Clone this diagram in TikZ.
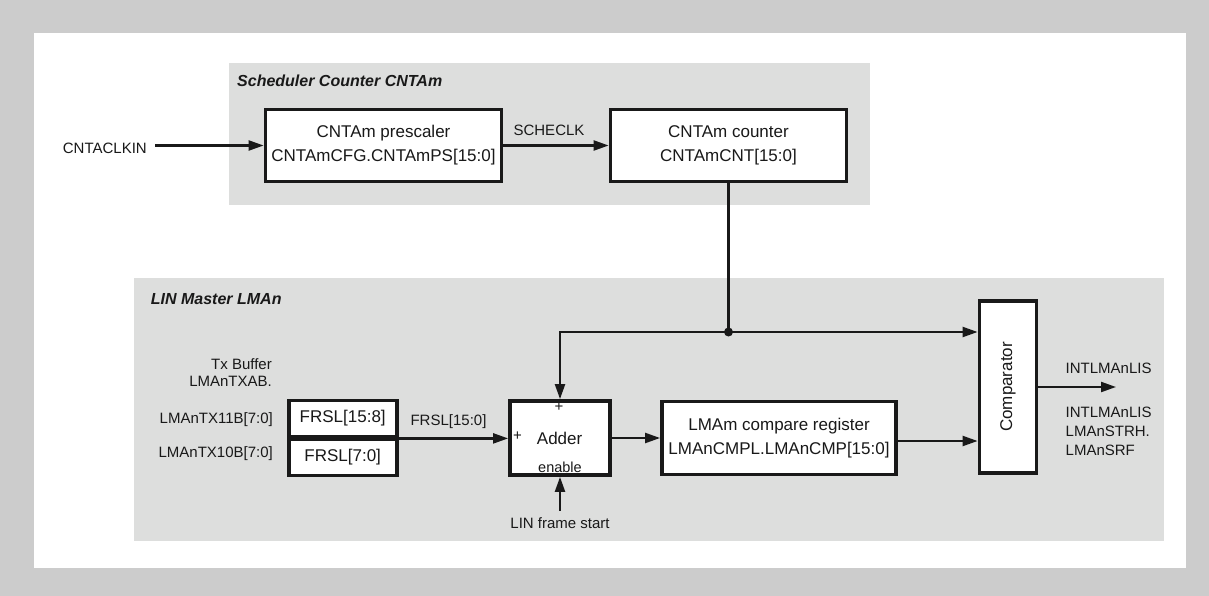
\documentclass[tikz,border=0pt]{standalone}
\usepackage{fontspec}
\setmainfont{Liberation Sans}
\usetikzlibrary{arrows.meta,calc}
\definecolor{outerg}{RGB}{204,204,204}
\definecolor{panelg}{RGB}{221,222,221}
\definecolor{ink}{RGB}{25,25,25}
\begin{document}
\begin{tikzpicture}[x=1pt,y=-1pt,
  blk/.style={draw=ink, line width=3.8pt, fill=white, inner sep=0pt, text=ink,
              font=\fontsize{17}{24}\selectfont, align=center},
  lbl/.style={font=\fontsize{15}{17.5}\selectfont, text=ink, inner sep=0pt},
  ttl/.style={font=\fontsize{16}{16}\selectfont\bfseries\itshape, text=ink, inner sep=0pt, anchor=west},
  arr/.style={draw=ink, line width=2.2pt, -{Triangle[length=15pt,width=10pt]}},
  wire/.style={draw=ink, line width=2.2pt}]
% backgrounds
\fill[outerg] (0,0) rectangle (1209,596);
\fill[white] (34,33) rectangle (1186,568);
\fill[panelg] (229,63.5) rectangle (870,204.5);
\fill[panelg] (134,277.6) rectangle (1164,541.4);
% titles
\node[ttl] (t1) at (237,80.5) {Scheduler Counter CNTAm};
\node[ttl] (t2) at (150.7,299) {LIN Master LMAn};
% blocks
\node[blk, minimum width=236, minimum height=72] (pre) at (383.5,145.5) {CNTAm prescaler\\CNTAmCFG.CNTAmPS[15:0]};
\node[blk, minimum width=236, minimum height=72] (cnt) at (728.5,145.5) {CNTAm counter\\CNTAmCNT[15:0]};
\node[blk, minimum width=108, minimum height=36] (frslH) at (342.7,418.5) {FRSL[15:8]};
\node[blk, minimum width=108, minimum height=36] (frslL) at (342.7,457.5) {FRSL[7:0]};
\node[blk, minimum width=100, minimum height=74] (adder) at (560,438) {};
\node[blk, minimum width=234, minimum height=73] (cmp) at (779,438) {LMAm compare register\\LMAnCMPL.LMAnCMP[15:0]};
\node[blk, minimum width=57, minimum height=172] (comp) at (1008,387) {};
% texts inside
\node[text=ink, inner sep=0pt, rotate=90, font=\fontsize{17}{17}\selectfont] (comptxt) at (comp.center) {Comparator};
\node[text=ink, inner sep=0pt, font=\fontsize{17}{17}\selectfont] (addtxt) at (559.6,438) {Adder};
\node[text=ink, inner sep=0pt, font=\fontsize{14.5}{14.5}\selectfont] (entxt) at (560,467) {enable};
\node[text=ink, inner sep=0pt, font=\fontsize{15}{15}\selectfont] (plus1) at (559,407.5) {+};
\node[text=ink, inner sep=0pt, font=\fontsize{15}{15}\selectfont] (plus2) at (517.5,436.5) {+};
% labels
\node[lbl, anchor=east] (clk) at (147,148) {CNTACLKIN};
\node[lbl] (sche) at (549,130) {SCHECLK};
\node[lbl, anchor=east, align=right] (txb) at (272,372.5) {Tx Buffer\\LMAnTXAB.};
\node[lbl, anchor=east] (tx11) at (273,420) {LMAnTX11B[7:0]};
\node[lbl, anchor=east] (tx10) at (273,454) {LMAnTX10B[7:0]};
\node[lbl] (frsl) at (448.5,422) {FRSL[15:0]};
\node[lbl] (lfs) at (560,523.6) {LIN frame start};
\node[lbl, anchor=west] (int1) at (1065.5,368) {INTLMAnLIS};
\node[lbl, anchor=west, align=left, font=\fontsize{15}{19}\selectfont] (int2) at (1065.5,431.5) {INTLMAnLIS\\LMAnSTRH.\\LMAnSRF};
% connectors
\coordinate (clkout) at (155,145.5);
\draw[arr] (clkout) -- (pre.west);
\draw[arr] (pre.east) -- (cnt.west);
\coordinate (j) at (728.5,332);
\draw[wire] (cnt.south) -- (j);
\fill[ink] (j) circle (4.5);
\draw[arr] (j) -- (comp.west |- j);
\draw[arr] (j) -| (adder.north);
\draw[arr] (frslH.south east) -- (adder.west |- frslH.south east);
\draw[arr] (adder.east) -- (cmp.west);
\coordinate (cmpout) at ([yshift=-3pt]cmp.east);
\draw[arr] (cmpout) -- (comp.west |- cmpout);
\coordinate (out) at (1116,387);
\draw[arr] (comp.east) -- (out);
\draw[arr] ([yshift=7pt]lfs.north) -- (adder.south);
\end{tikzpicture}
\end{document}
